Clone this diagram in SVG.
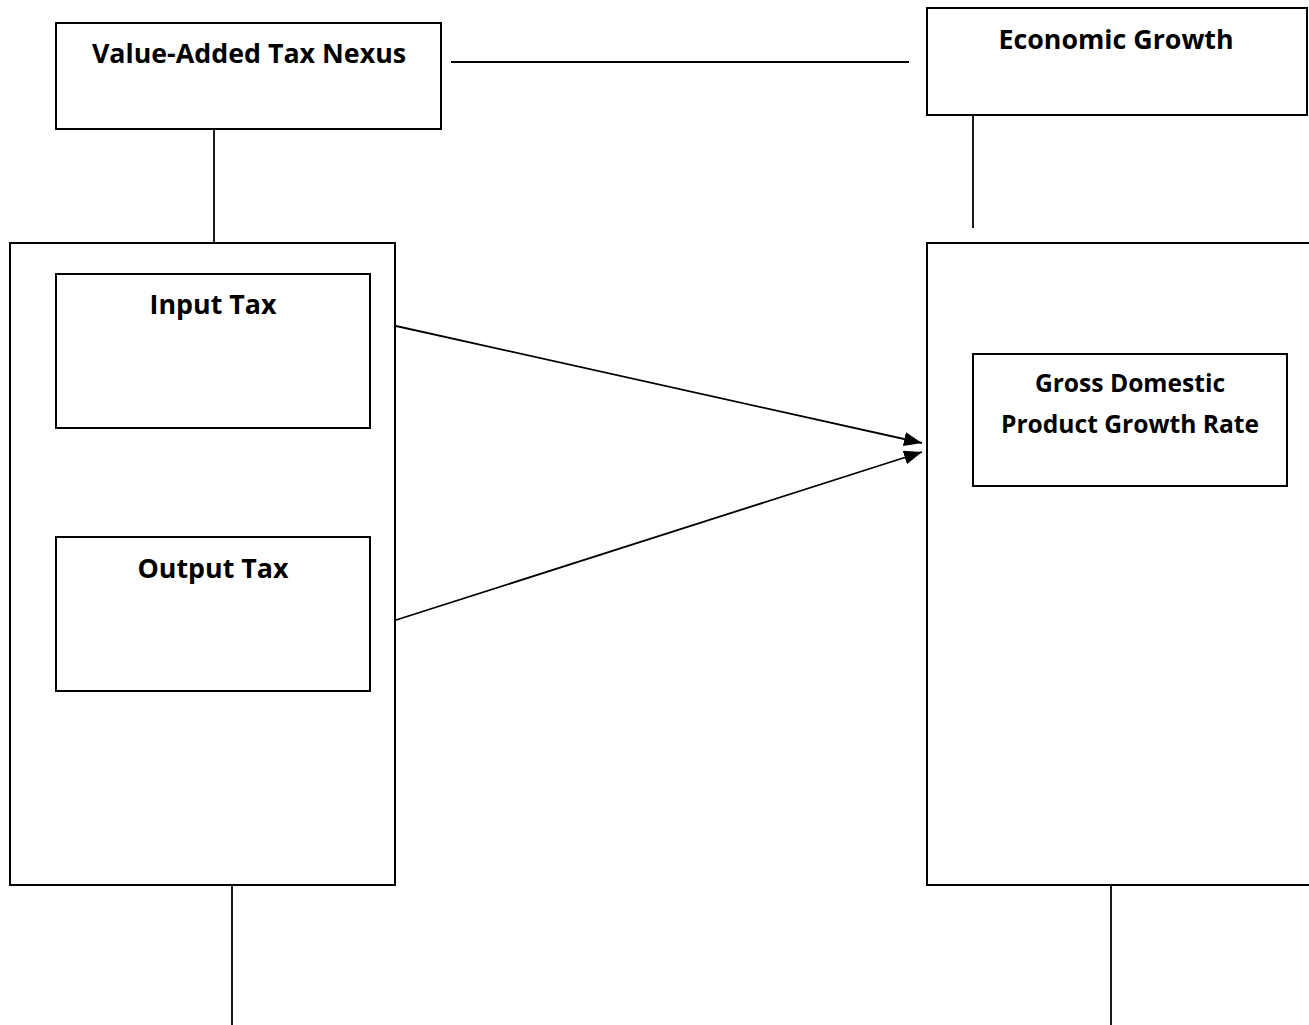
<svg xmlns="http://www.w3.org/2000/svg" width="1309" height="1025" viewBox="0 0 1309 1025">
<style>
.box{fill:#fff;stroke:#000;stroke-width:2}
.ln{stroke:#000;stroke-width:1.8;fill:none}
.t{font-family:"Open Sans","Liberation Sans",sans-serif;font-weight:bold;font-size:26.8px;text-anchor:middle;fill:#000}
.s{font-size:24.6px}
</style>
<defs>
<marker id="ah2" viewBox="0 0 18 14" refX="18" refY="7" markerWidth="18" markerHeight="14" orient="auto" markerUnits="userSpaceOnUse">
<path d="M0,0 L18,7 L0,14 z" fill="#000"/>
</marker>
</defs>
<g id="vat-nexus"><rect class="box" x="56" y="23" width="385" height="106"/><text class="t" x="249" y="63">Value-Added Tax Nexus</text></g>
<g id="economic-growth"><rect class="box" x="927" y="8" width="380" height="107"/><text class="t" x="1116" y="49">Economic Growth</text></g>
<g id="vat-group"><rect class="box" x="10" y="243" width="385" height="642"/></g>
<g id="input-tax"><rect class="box" x="56" y="274" width="314" height="154"/><text class="t" x="213" y="314">Input Tax</text></g>
<g id="output-tax"><rect class="box" x="56" y="537" width="314" height="154"/><text class="t" x="213" y="578">Output Tax</text></g>
<g id="growth-group"><rect class="box" x="927" y="243" width="390" height="642"/></g>
<g id="gdp"><rect class="box" x="973" y="354" width="314" height="132"/><text class="t s" x="1130" y="392">Gross Domestic</text><text class="t s" x="1130" y="433">Product Growth Rate</text></g>
<g id="connectors">
<line class="ln" x1="451" y1="62" x2="909" y2="62"/>
<line class="ln" x1="214" y1="129" x2="214" y2="243"/>
<line class="ln" x1="973" y1="115" x2="973" y2="228"/>
<line class="ln" x1="232" y1="886" x2="232" y2="1025"/>
<line class="ln" x1="1111" y1="886" x2="1111" y2="1025"/>
<line class="ln" x1="396" y1="326" x2="922" y2="443" marker-end="url(#ah2)"/>
<line class="ln" x1="396" y1="620" x2="922" y2="452" marker-end="url(#ah2)"/>
</g>
</svg>
